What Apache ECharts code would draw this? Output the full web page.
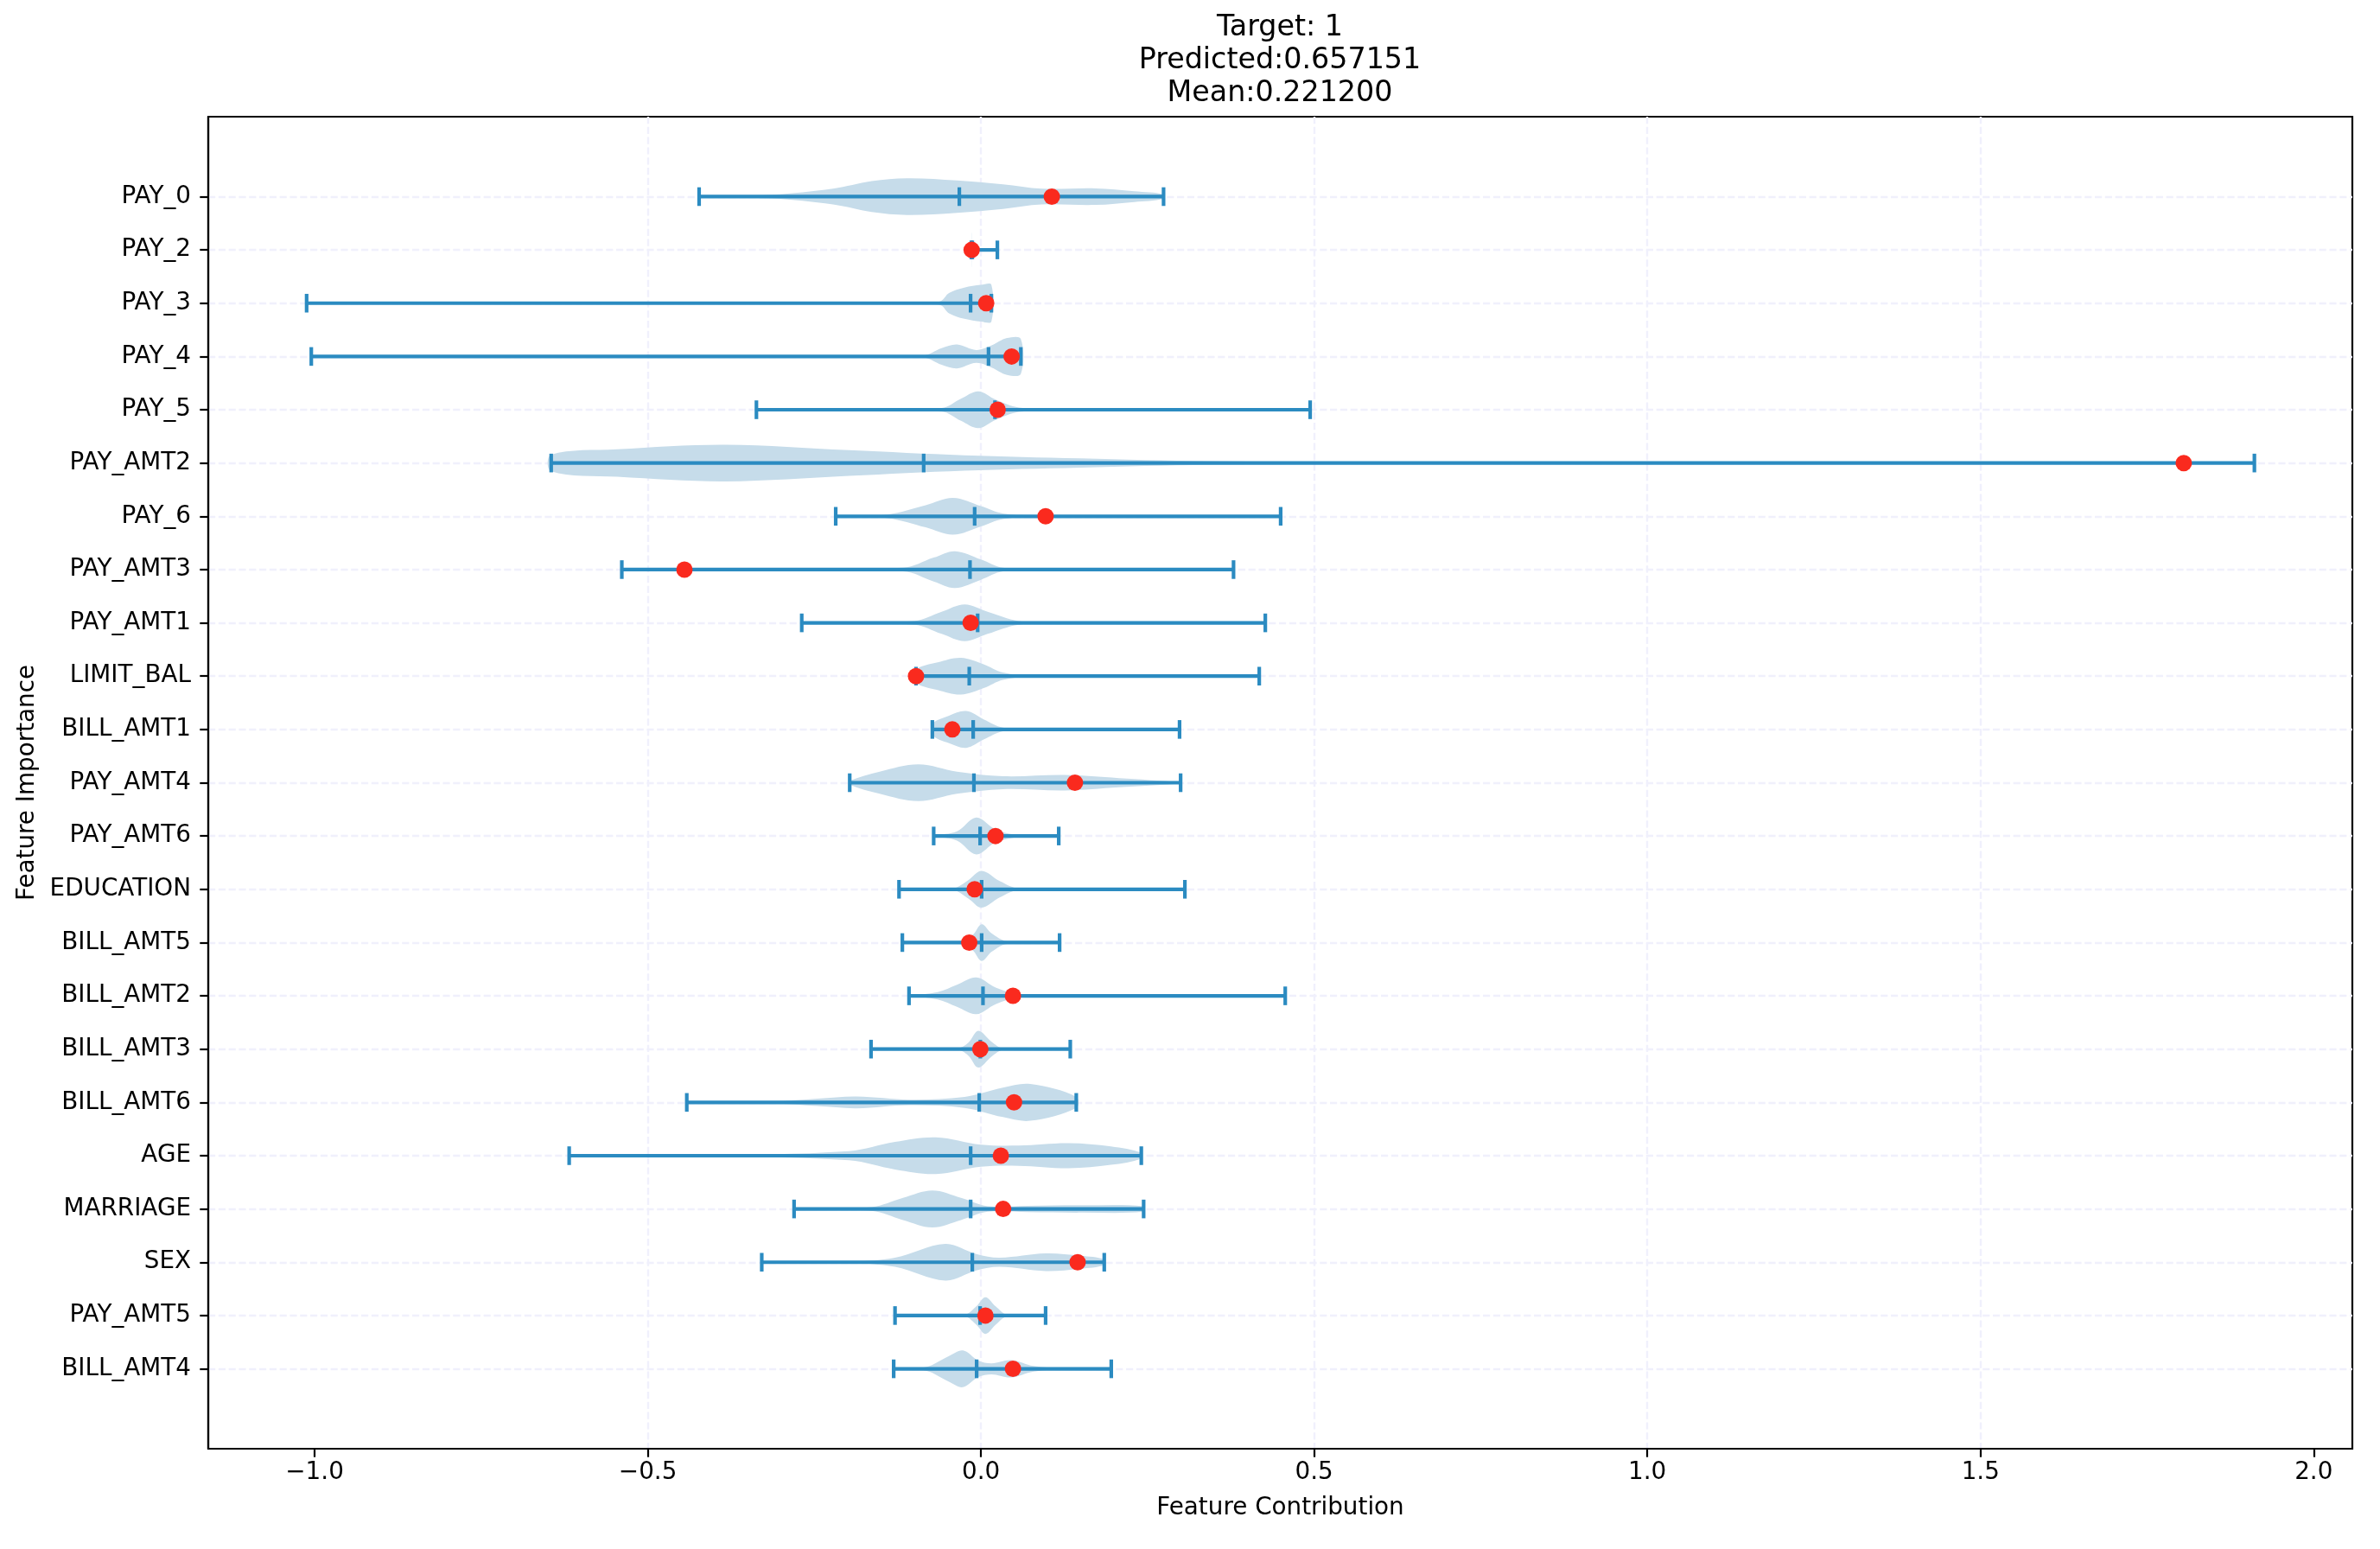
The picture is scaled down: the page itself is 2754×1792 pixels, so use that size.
<!DOCTYPE html>
<html>
<head>
<meta charset="utf-8">
<title>Feature contribution violins</title>
<script src="https://cdn.jsdelivr.net/npm/echarts@6/dist/echarts.min.js"></script>
<style>
  html, body { margin: 0; padding: 0; background: #fff; }
  #main { width: 2754px; height: 1792px; }
</style>
</head>
<body>
<div id="main"></div>
<script>
// features, top to bottom
var features = ['PAY_0', 'PAY_2', 'PAY_3', 'PAY_4', 'PAY_5', 'PAY_AMT2', 'PAY_6', 'PAY_AMT3',
  'PAY_AMT1', 'LIMIT_BAL', 'BILL_AMT1', 'PAY_AMT4', 'PAY_AMT6', 'EDUCATION', 'BILL_AMT5',
  'BILL_AMT2', 'BILL_AMT3', 'BILL_AMT6', 'AGE', 'MARRIAGE', 'SEX', 'PAY_AMT5', 'BILL_AMT4'];

// contribution range of each feature (whisker ends) and middle tick
var minVals = [-0.423, -0.0145, -1.012, -1.005, -0.337, -0.645, -0.218, -0.539, -0.269, -0.0975, -0.073,
  -0.197, -0.071, -0.123, -0.118, -0.108, -0.165, -0.4415, -0.618, -0.2805, -0.329, -0.129, -0.131];
var medianVals = [-0.0325, -0.013, -0.0156, 0.0113, 0.021, -0.086, -0.0095, -0.0165, -0.005, -0.0176, -0.0117,
  -0.0106, -0.0013, 0.001, 0.001, 0.003, -0.001, -0.0026, -0.0155, -0.0155, -0.013, -0.0013, -0.0065];
var maxVals = [0.274, 0.0246, 0.0156, 0.0598, 0.494, 1.911, 0.4497, 0.379, 0.4267, 0.4176, 0.298,
  0.2996, 0.1167, 0.306, 0.118, 0.4566, 0.134, 0.143, 0.2406, 0.2441, 0.185, 0.097, 0.1955];
// contribution for this instance (red dots)
var pointVals = [0.1063, -0.014, 0.0078, 0.046, 0.025, 1.805, 0.097, -0.445, -0.0155, -0.0975, -0.043,
  0.141, 0.0218, -0.0095, -0.0176, 0.048, -0.001, 0.0496, 0.0298, 0.0333, 0.145, 0.0067, 0.048];

// violin outline: [contribution, relative half width]
var violinProfiles = [
  [[-0.423, 0.02], [-0.314, 0.1], [-0.222, 0.43], [-0.164, 0.84], [-0.111, 1.0], [-0.036, 0.88], [0.033, 0.67], [0.091, 0.43], [0.172, 0.45], [0.23, 0.29], [0.274, 0.12]],
  [[-0.0145, 0.05], [-0.0135, 0.95], [-0.012, 0.1], [0.0, 0.02], [0.0246, 0.0]],
  [[-1.012, 0.0], [-0.08, 0.02], [-0.06, 0.12], [-0.048, 0.55], [-0.025, 0.85], [0.0, 1.0], [0.0156, 1.0]],
  [[-1.005, 0.0], [-0.088, 0.05], [-0.059, 0.45], [-0.036, 0.65], [-0.007, 0.35], [0.016, 0.6], [0.039, 1.0], [0.0598, 0.95]],
  [[-0.337, 0.0], [-0.059, 0.1], [-0.03, 0.6], [-0.004, 1.0], [0.022, 0.55], [0.057, 0.12], [0.126, 0.03], [0.494, 0.0]],
  [[-0.645, 0.45], [-0.546, 0.75], [-0.384, 1.0], [-0.198, 0.7], [-0.025, 0.42], [0.149, 0.25], [0.344, 0.1], [0.8, 0.03], [1.911, 0.02]],
  [[-0.218, 0.0], [-0.14, 0.1], [-0.083, 0.6], [-0.042, 1.0], [0.0, 0.55], [0.033, 0.15], [0.09, 0.05], [0.4497, 0.0]],
  [[-0.539, 0.0], [-0.117, 0.1], [-0.071, 0.65], [-0.039, 1.0], [0.0, 0.55], [0.033, 0.1], [0.107, 0.02], [0.379, 0.0]],
  [[-0.269, 0.0], [-0.1, 0.1], [-0.059, 0.6], [-0.0245, 1.0], [0.01, 0.6], [0.0565, 0.1], [0.126, 0.02], [0.4267, 0.0]],
  [[-0.0975, 0.35], [-0.065, 0.75], [-0.03, 1.0], [0.004, 0.65], [0.033, 0.2], [0.079, 0.03], [0.4176, 0.0]],
  [[-0.073, 0.3], [-0.048, 0.75], [-0.022, 1.0], [0.004, 0.55], [0.033, 0.1], [0.079, 0.02], [0.298, 0.0]],
  [[-0.197, 0.1], [-0.152, 0.6], [-0.094, 1.0], [-0.036, 0.6], [0.033, 0.35], [0.126, 0.42], [0.207, 0.25], [0.2996, 0.03]],
  [[-0.071, 0.02], [-0.036, 0.25], [-0.007, 1.0], [0.022, 0.35], [0.057, 0.05], [0.1167, 0.0]],
  [[-0.123, 0.0], [-0.042, 0.05], [-0.019, 0.5], [0.001, 1.0], [0.028, 0.45], [0.057, 0.05], [0.306, 0.0]],
  [[-0.118, 0.0], [-0.036, 0.05], [-0.013, 0.4], [0.001, 1.0], [0.016, 0.5], [0.039, 0.07], [0.118, 0.0]],
  [[-0.108, 0.0], [-0.065, 0.2], [-0.036, 0.6], [-0.007, 1.0], [0.022, 0.45], [0.057, 0.08], [0.126, 0.02], [0.4566, 0.0]],
  [[-0.165, 0.0], [-0.036, 0.03], [-0.019, 0.35], [-0.004, 1.0], [0.016, 0.4], [0.033, 0.05], [0.134, 0.0]],
  [[-0.4415, 0.02], [-0.314, 0.05], [-0.245, 0.2], [-0.187, 0.32], [-0.106, 0.15], [-0.0245, 0.3], [0.033, 0.8], [0.074, 1.0], [0.143, 0.3]],
  [[-0.618, 0.0], [-0.43, 0.02], [-0.198, 0.25], [-0.129, 0.75], [-0.068, 1.0], [0.0, 0.6], [0.0565, 0.55], [0.132, 0.68], [0.195, 0.5], [0.2406, 0.15]],
  [[-0.2805, 0.0], [-0.164, 0.1], [-0.117, 0.6], [-0.073, 1.0], [-0.03, 0.6], [0.01, 0.15], [0.07, 0.17], [0.149, 0.2], [0.2441, 0.15]],
  [[-0.329, 0.0], [-0.198, 0.03], [-0.129, 0.25], [-0.0535, 1.0], [-0.007, 0.45], [0.028, 0.25], [0.097, 0.48], [0.149, 0.35], [0.185, 0.15]],
  [[-0.129, 0.0], [-0.0245, 0.05], [-0.007, 0.5], [0.0067, 1.0], [0.022, 0.5], [0.039, 0.05], [0.097, 0.0]],
  [[-0.131, 0.0], [-0.0825, 0.1], [-0.048, 0.7], [-0.027, 1.0], [-0.004, 0.45], [0.016, 0.3], [0.045, 0.47], [0.079, 0.15], [0.126, 0.02], [0.1955, 0.0]]
];

var xTickVals = [-1.0, -0.5, 0.0, 0.5, 1.0, 1.5, 2.0];
var titleLines = ['Target: 1', 'Predicted:0.657151', 'Mean:0.221200'];

var FONT = 'DejaVu Sans';
var BODY_COLOR = '#c6dcea';
var LINE_COLOR = '#2b8bc1';
var DOT_COLOR = '#fa2a1e';
var GRID_COLOR = '#f0f0fc';
var X_MIN = -1.1596, X_MAX = 2.058;
var VIOLIN_HALF = 0.345;  // half width of a violin, in bands
var CAP_HALF = 0.175;     // half length of min/max/median ticks

// one empty band above and below, like matplotlib's margins
var cats = [''].concat(features, [' ']);
function realCat(idx) { return idx > 0 && idx < cats.length - 1; }

var rows = [];
for (var i = 0; i < features.length; i++) {
  rows.push([minVals[i], i + 1, maxVals[i], medianVals[i]]);
}
var dots = pointVals.map(function (v, i) { return [v, i + 1]; });

function renderViolin(params, api) {
  var prof = violinProfiles[params.dataIndex];
  var row = api.value(1);
  var band = api.size([0, 1])[1];
  var half = band * VIOLIN_HALF;
  var top = [], bottom = [];
  for (var k = 0; k < prof.length; k++) {
    var p = api.coord([prof[k][0], row]);
    top.push([p[0], p[1] - prof[k][1] * half]);
    bottom.unshift([p[0], p[1] + prof[k][1] * half]);
  }
  var lo = api.coord([api.value(0), row]);
  var hi = api.coord([api.value(2), row]);
  var med = api.coord([api.value(3), row]);
  var cap = band * CAP_HALF;
  var lineStyle = { stroke: LINE_COLOR, lineWidth: 4.2 };
  function vline(pt) {
    return { type: 'line', shape: { x1: pt[0], y1: pt[1] - cap, x2: pt[0], y2: pt[1] + cap }, style: lineStyle };
  }
  return {
    type: 'group',
    children: [
      { type: 'polygon', shape: { points: top.concat(bottom), smooth: 0.35 }, style: { fill: BODY_COLOR } },
      { type: 'line', shape: { x1: lo[0], y1: lo[1], x2: hi[0], y2: hi[1] }, style: lineStyle },
      vline(lo), vline(hi), vline(med)
    ]
  };
}

var tickFont = { fontFamily: FONT, fontSize: 27.8, color: '#000' };
var axisLineStyle = { color: '#000', width: 2.2 };
var gridLineStyle = { color: GRID_COLOR, width: 2.4, type: [8.2, 3.6] };

var chart = echarts.init(document.getElementById('main'), null, { renderer: 'canvas' });
chart.setOption({
  backgroundColor: '#fff',
  animation: false,
  title: {
    text: titleLines.join('\n'),
    left: 1481, top: 13, padding: 0,
    textAlign: 'center',
    textStyle: { fontFamily: FONT, fontSize: 33.3, fontWeight: 'normal', color: '#000', lineHeight: 38 }
  },
  grid: {
    left: 241, right: 32, top: 135, bottom: 116,
    show: true, borderColor: '#000', borderWidth: 2.2, backgroundColor: 'transparent'
  },
  xAxis: {
    type: 'value', min: X_MIN, max: X_MAX, splitNumber: 6,
    name: 'Feature Contribution', nameLocation: 'middle', nameGap: 55,
    nameTextStyle: tickFont,
    axisLine: { show: true, onZero: false, lineStyle: axisLineStyle },
    axisTick: { show: true, customValues: xTickVals, length: 9.7, lineStyle: axisLineStyle },
    axisLabel: {
      customValues: xTickVals, margin: 14, fontFamily: FONT, fontSize: 27.8, color: '#000',
      formatter: function (v) { return v.toFixed(1).replace('-', '\u2212'); }
    },
    splitLine: { show: true, showMinLine: false, showMaxLine: false, lineStyle: gridLineStyle }
  },
  yAxis: {
    type: 'category', data: cats, inverse: true, boundaryGap: true,
    name: 'Feature Importance', nameLocation: 'middle', nameGap: 195, nameRotate: 90,
    nameTextStyle: tickFont,
    axisLine: { show: true, onZero: false, lineStyle: axisLineStyle },
    axisTick: { show: true, alignWithLabel: true, interval: realCat, length: 9.7, lineStyle: axisLineStyle },
    axisLabel: { interval: realCat, margin: 20, fontFamily: FONT, fontSize: 27.8, color: '#000' },
    splitLine: { show: true, alignWithLabel: true, interval: realCat, lineStyle: gridLineStyle }
  },
  series: [
    {
      type: 'custom', name: 'violins', renderItem: renderViolin,
      encode: { x: [0, 2, 3], y: 1 }, data: rows, z: 2
    },
    {
      type: 'scatter', name: 'instance', data: dots, symbol: 'circle', symbolSize: 19,
      itemStyle: { color: DOT_COLOR, opacity: 1 }, z: 5
    }
  ]
});
</script>
</body>
</html>
